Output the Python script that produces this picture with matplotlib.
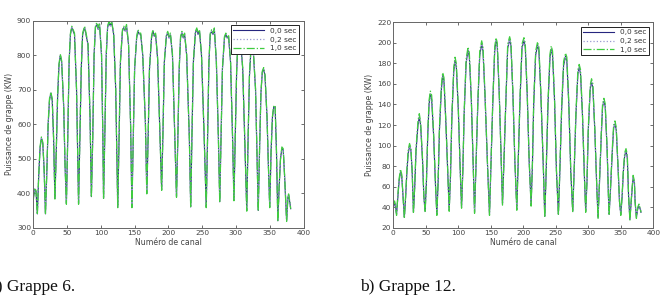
import matplotlib
matplotlib.use("Agg")
import matplotlib.pyplot as plt

# ---------------- Grappe 6 ----------------
g6_x = [0, 2, 4, 6, 8, 10, 12, 14, 16, 18, 20, 22, 24, 26, 28, 30, 32, 34, 36, 38,
        40, 42, 45, 47, 49, 51, 53, 55, 57, 59, 61, 64, 66, 67, 69, 71, 73, 76, 78, 81,
        84, 86, 88, 90, 92, 94, 96, 98, 101, 103, 104, 106, 108, 110, 112, 114, 116, 119, 122, 125,
        127, 129, 132, 134, 136, 138, 141, 144, 146, 148, 150, 153, 155, 157, 159, 162, 166, 168, 170, 172,
        175, 177, 179, 181, 184, 187, 190, 192, 194, 197, 199, 201, 203, 206, 209, 212, 214, 216, 218, 220,
        222, 224, 227, 231, 233, 235, 237, 240, 242, 244, 246, 249, 253, 256, 258, 260, 262, 264, 266, 268,
        271, 274, 276, 278, 280, 283, 285, 287, 289, 292, 295, 297, 299, 301, 303, 305, 307, 310, 313, 316,
        318, 320, 322, 324, 326, 329, 331, 333, 335, 337, 339, 341, 343, 346, 348, 350, 352, 354, 356, 358,
        360, 362, 364, 366, 368, 370, 372, 375, 377, 378, 380, 381]
g6_00 = [385, 412, 405, 340, 450, 530, 560, 545, 470, 340, 460, 600, 670, 690, 670, 560, 385, 520, 680, 770,
         800, 780, 650, 480, 370, 560, 780, 860, 880, 870, 860, 700, 480, 370, 560, 760, 860, 880, 860, 830,
         620, 390, 560, 800, 880, 890, 875, 890, 800, 560, 385, 580, 800, 880, 895, 885, 895, 860, 700, 360,
         560, 780, 870, 880, 870, 885, 830, 600, 360, 560, 760, 850, 870, 860, 860, 800, 600, 400, 560, 760,
         850, 870, 855, 860, 790, 600, 410, 580, 780, 855, 865, 850, 860, 800, 600, 390, 560, 760, 850, 865,
         850, 860, 800, 560, 360, 580, 780, 865, 875, 860, 870, 800, 560, 360, 560, 780, 860, 870, 860, 875,
         780, 560, 375, 560, 760, 850, 860, 850, 855, 780, 560, 380, 560, 750, 840, 855, 840, 760, 560, 350,
         560, 740, 810, 830, 800, 700, 520, 350, 530, 690, 750, 760, 740, 620, 480, 360, 520, 620, 650, 650,
         520, 320, 420, 500, 530, 525, 450, 320, 390, 395, 370, 355]
g6_02 = [385, 412, 405, 342, 450, 530, 560, 545, 470, 342, 460, 600, 670, 690, 670, 560, 387, 520, 680, 770,
         800, 780, 650, 480, 372, 560, 780, 860, 880, 870, 860, 700, 480, 372, 560, 760, 860, 880, 860, 830,
         620, 392, 560, 800, 880, 890, 875, 890, 800, 560, 387, 580, 800, 880, 895, 885, 895, 860, 700, 362,
         560, 780, 870, 880, 870, 885, 830, 600, 362, 560, 760, 850, 870, 860, 860, 800, 600, 402, 560, 760,
         850, 870, 855, 860, 790, 600, 412, 580, 780, 855, 865, 850, 860, 800, 600, 392, 560, 760, 850, 865,
         850, 860, 800, 560, 362, 580, 780, 865, 875, 860, 870, 800, 560, 362, 560, 780, 860, 870, 860, 875,
         780, 560, 377, 560, 760, 850, 860, 850, 855, 780, 560, 382, 560, 750, 840, 855, 840, 760, 560, 352,
         560, 740, 810, 830, 800, 700, 520, 352, 530, 690, 750, 760, 740, 620, 480, 362, 520, 620, 650, 650,
         520, 322, 420, 500, 530, 525, 450, 322, 390, 395, 370, 357]
g6_10 = [380, 415, 408, 338, 452, 535, 563, 548, 472, 338, 462, 605, 675, 693, 674, 563, 383, 523, 684, 774,
         803, 784, 652, 482, 368, 562, 784, 864, 884, 874, 864, 703, 483, 368, 563, 764, 864, 884, 865, 834,
         622, 388, 562, 804, 884, 895, 880, 894, 804, 562, 383, 583, 804, 884, 898, 888, 898, 864, 703, 358,
         562, 784, 874, 884, 874, 889, 834, 602, 358, 562, 764, 854, 874, 864, 864, 804, 602, 398, 562, 764,
         854, 874, 859, 864, 794, 602, 408, 582, 784, 859, 869, 854, 864, 804, 602, 388, 562, 764, 854, 869,
         854, 864, 804, 562, 358, 582, 784, 869, 879, 864, 874, 804, 562, 358, 562, 784, 864, 874, 864, 879,
         784, 562, 373, 562, 764, 854, 864, 854, 859, 784, 562, 378, 562, 754, 844, 859, 844, 764, 562, 348,
         562, 744, 814, 834, 804, 704, 522, 348, 532, 694, 754, 764, 744, 622, 482, 358, 522, 622, 654, 654,
         522, 318, 422, 502, 534, 529, 452, 318, 392, 398, 372, 355]

# ---------------- Grappe 12 ----------------
g12_x = [0, 2, 3, 5, 7, 9, 11, 13, 15, 17, 19, 21, 23, 25, 27, 29, 31, 33, 35, 38,
         40, 42, 45, 47, 49, 51, 53, 55, 57, 59, 62, 65, 67, 69, 71, 74, 76, 78, 81, 84,
         86, 88, 90, 93, 95, 97, 100, 103, 105, 107, 109, 112, 115, 117, 120, 123, 125, 127, 130, 133,
         136, 138, 141, 145, 148, 150, 153, 156, 158, 160, 163, 166, 168, 170, 173, 176, 179, 181, 184, 187,
         190, 192, 195, 198, 201, 203, 206, 209, 212, 214, 216, 219, 222, 224, 227, 231, 233, 235, 238, 241,
         243, 245, 248, 251, 254, 256, 259, 262, 265, 267, 270, 273, 276, 278, 281, 284, 286, 288, 291, 294,
         296, 298, 300, 303, 305, 307, 310, 313, 315, 317, 320, 322, 324, 326, 329, 331, 332, 334, 337, 339,
         341, 343, 346, 348, 350, 352, 354, 356, 358, 360, 362, 364, 366, 368, 369, 371, 372, 374, 376, 378,
         380, 381]
g12_00 = [40, 44, 42, 33, 50, 66, 74, 70, 50, 30, 50, 75, 93, 99, 96, 75, 35, 60, 95, 120,
          128, 120, 85, 50, 36, 65, 110, 140, 150, 145, 110, 60, 33, 65, 115, 155, 168, 162, 120, 70,
          37, 70, 125, 172, 183, 176, 135, 75, 40, 75, 130, 180, 193, 186, 145, 80, 35, 75, 140, 188,
          199, 192, 150, 80, 33, 75, 140, 192, 202, 196, 150, 85, 43, 80, 140, 195, 203, 197, 150, 85,
          38, 80, 145, 195, 202, 196, 150, 85, 42, 80, 140, 188, 198, 192, 150, 75, 31, 70, 140, 185,
          194, 188, 145, 75, 33, 70, 135, 178, 187, 182, 140, 75, 36, 70, 130, 170, 176, 170, 130, 70,
          36, 65, 115, 155, 162, 156, 115, 60, 30, 60, 110, 138, 143, 138, 95, 50, 33, 55, 95, 117,
          121, 115, 75, 45, 33, 50, 75, 90, 95, 88, 50, 28, 45, 62, 69, 63, 45, 30, 38, 41,
          38, 35]
g12_02 = [40, 44, 42, 34, 50, 66, 74, 70, 50, 31, 50, 75, 93, 99, 96, 75, 36, 60, 95, 120,
          128, 120, 85, 50, 37, 65, 110, 140, 150, 145, 110, 60, 34, 65, 115, 155, 168, 162, 120, 70,
          38, 70, 125, 172, 183, 176, 135, 75, 41, 75, 130, 180, 193, 186, 145, 80, 36, 75, 140, 188,
          199, 192, 150, 80, 34, 75, 140, 192, 202, 196, 150, 85, 44, 80, 140, 195, 203, 197, 150, 85,
          39, 80, 145, 195, 202, 196, 150, 85, 43, 80, 140, 188, 198, 192, 150, 75, 32, 70, 140, 185,
          194, 188, 145, 75, 34, 70, 135, 178, 187, 182, 140, 75, 37, 70, 130, 170, 176, 170, 130, 70,
          37, 65, 115, 155, 162, 156, 115, 60, 31, 60, 110, 138, 143, 138, 95, 50, 34, 55, 95, 117,
          121, 115, 75, 45, 34, 50, 75, 90, 95, 88, 50, 29, 45, 62, 69, 63, 45, 31, 38, 41,
          38, 35]
g12_10 = [42, 46, 43, 32, 52, 68, 77, 72, 51, 29, 52, 78, 96, 102, 98, 76, 34, 62, 98, 124,
          131, 123, 87, 51, 35, 67, 113, 144, 153, 149, 112, 61, 32, 67, 118, 159, 171, 166, 122, 71,
          36, 72, 128, 176, 186, 180, 137, 76, 39, 77, 133, 184, 196, 190, 147, 81, 34, 77, 143, 192,
          202, 196, 152, 81, 32, 77, 143, 196, 205, 200, 152, 86, 42, 82, 143, 199, 206, 201, 152, 86,
          37, 82, 148, 199, 205, 200, 152, 86, 41, 82, 143, 192, 201, 196, 152, 76, 30, 72, 143, 189,
          197, 192, 147, 76, 32, 72, 138, 182, 190, 186, 142, 76, 35, 72, 133, 174, 179, 174, 132, 71,
          35, 67, 118, 159, 165, 160, 117, 61, 29, 62, 113, 141, 146, 141, 97, 51, 32, 57, 98, 120,
          124, 118, 77, 46, 32, 52, 77, 93, 97, 91, 51, 27, 47, 64, 71, 65, 46, 29, 40, 43,
          39, 35]

series_labels = ["0,0 sec", "0,2 sec", "1,0 sec"]
xlabel = "Numéro de canal"
ylabel = "Puissance de grappe (KW)"
captions = ["a) Grappe 6.", "b) Grappe 12."]

plt.rcParams['font.family'] = ['DejaVu Sans']

fig = plt.figure(figsize=(6.64, 2.97), dpi=100)
W, H = 664, 297

def px_axes(x0, y0, x1, y1):
    return fig.add_axes([x0 / W, 1 - y1 / H, (x1 - x0) / W, (y1 - y0) / H])

axL = px_axes(33.3, 20.7, 303.5, 227.7)
axR = px_axes(393.3, 22.3, 653.3, 227.7)

styles = [dict(color="#26267f", linestyle="-", linewidth=0.8),
          dict(color="#9a9ad0", linestyle=":", linewidth=0.9),
          dict(color="#3fcc3f", linestyle="-.", linewidth=0.9)]

def draw(ax, x, ys, ylim, yticks):
    for y, lab, st in zip(ys, series_labels, styles):
        ax.plot(x, y, label=lab, **st)
    ax.set_xlim(0, 400)
    ax.set_ylim(*ylim)
    ax.set_xticks(range(0, 401, 50))
    ax.set_yticks(yticks)
    ax.tick_params(direction="in", length=2.5, width=0.6, labelsize=5.3,
                   colors="#555555", labelcolor="#444444", top=True, right=True, pad=1.5)
    for s in ax.spines.values():
        s.set_color("#666666")
        s.set_linewidth(0.7)
    ax.set_xlabel(xlabel, fontsize=5.6, color="#444444", labelpad=1.5)
    ax.set_ylabel(ylabel, fontsize=5.6, color="#444444", labelpad=2)
    leg = ax.legend(loc="upper right", fontsize=5.3, frameon=True, fancybox=False,
                    edgecolor="#222222", framealpha=1, handlelength=4.2,
                    borderpad=0.35, labelspacing=0.35, handletextpad=0.8,
                    borderaxespad=0.6)
    leg.get_frame().set_linewidth(0.7)
    for t in leg.get_texts():
        t.set_color("#333333")

draw(axL, g6_x, [g6_00, g6_02, g6_10], (300, 900), range(300, 901, 100))
draw(axR, g12_x, [g12_00, g12_02, g12_10], (20, 220), range(20, 221, 20))

fig.text(-0.016, 1 - 287 / H, captions[0], fontsize=12.5, family="Liberation Serif",
         ha="left", va="center", color="#111111")
fig.text(360 / W, 1 - 287 / H, captions[1], fontsize=12.5, family="Liberation Serif",
         ha="left", va="center", color="#111111")

fig.savefig("out.png", dpi=100)
